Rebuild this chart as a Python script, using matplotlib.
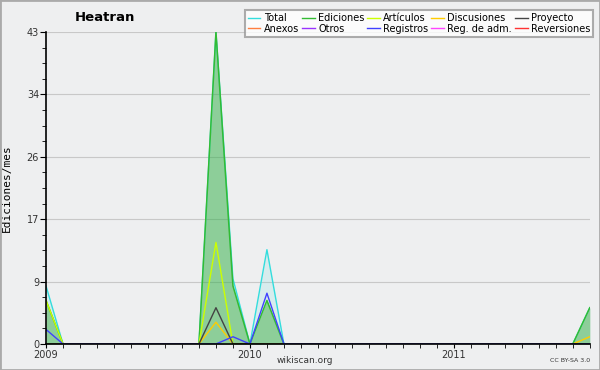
import matplotlib
matplotlib.use("Agg")
import matplotlib.pyplot as plt
from matplotlib.lines import Line2D

# meses desde enero 2009 (0) hasta septiembre 2011 (32)
meses = list(range(33))
anios = ["2009", "2010", "2011"]

def serie(pares):
    v = [0] * 33
    for i, val in pares.items():
        v[i] = val
    return v

total = serie({0: 8, 10: 43, 11: 9, 13: 13, 32: 5})
ediciones = serie({0: 6, 10: 43, 11: 8, 13: 6, 32: 5})
articulos = serie({0: 6, 10: 14})
discusiones = serie({10: 3, 32: 1})
proyecto = serie({10: 5})
anexos = serie({})
otros = serie({})
registros = serie({0: 2, 11: 1, 13: 7})
reg_adm = serie({})
reversiones = serie({})

nombres = ["Total", "Ediciones", "Artículos", "Discusiones", "Proyecto",
           "Anexos", "Otros", "Registros", "Reg. de adm.", "Reversiones"]
colores = ["#33dddd", "#33bb33", "#ccff00", "#ffcc00", "#444444",
           "#ff7f40", "#9933ff", "#4040ff", "#ff44ff", "#ff3333"]
datos = [total, ediciones, articulos, discusiones, proyecto,
         anexos, otros, registros, reg_adm, reversiones]

fondo = "#eeeff0"
fig = plt.figure(figsize=(6, 3.7), dpi=100, facecolor=fondo)
ax = fig.add_axes([0.0767, 0.0703, 0.9063, 0.8432])
ax.set_facecolor(fondo)

ymax = 43
ax.fill_between(meses, total, color="#33dddd", alpha=0.12, lw=0)
ax.fill_between(meses, ediciones, color="#33aa33", alpha=0.45, lw=0)
orden_dibujo = [0, 1, 2, 3, 4, 7]
for i in orden_dibujo:
    ax.plot(meses, datos[i], color=colores[i], lw=1.1 if i == 1 else 1, zorder=3 if i else 2)

ax.set_xlim(0, 32)
ax.set_ylim(0, ymax)
mayores = [ymax * k / 5 for k in range(6)]
ax.set_yticks(mayores)
ax.set_yticklabels([str(int(round(m))) for m in mayores])
ax.set_yticks([ymax * k / 20 for k in range(21)], minor=True)
ax.set_xticks(meses, minor=True)
ax.set_xticks([0, 12, 24])
ax.set_xticklabels(anios)
ax.tick_params(axis="both", which="both", labelsize=7, color="black",
               labelcolor="#333333", direction="out")
ax.tick_params(axis="y", which="major", length=4, pad=1)
ax.tick_params(axis="y", which="minor", length=3)
ax.tick_params(axis="x", which="both", length=3, pad=1)
ax.grid(axis="y", which="major", color="#c8c8c8", lw=0.8)
ax.set_axisbelow(True)
for s in ["top", "right"]:
    ax.spines[s].set_visible(False)
for s in ["left", "bottom"]:
    ax.spines[s].set_linewidth(1.2)
    ax.spines[s].set_zorder(5)

ax.set_ylabel("Ediciones/mes", family="DejaVu Sans Mono", fontsize=8, labelpad=11)

# leyenda en orden por filas (5 columnas)
handles = [Line2D([], [], color=c, lw=1) for c in colores]
orden = [0, 5, 1, 6, 2, 7, 3, 8, 4, 9]
leg = fig.legend([handles[i] for i in orden], [nombres[i] for i in orden],
                 ncol=5, loc="upper right", bbox_to_anchor=(0.997, 0.985),
                 fontsize=7, frameon=True, fancybox=False, handlelength=1.3,
                 handletextpad=0.35, columnspacing=0.3, labelspacing=0.05,
                 borderpad=0.3)
leg.get_frame().set_edgecolor("#999999")
leg.get_frame().set_linewidth(1.5)
leg.get_frame().set_facecolor("white")

fig.text(0.175, 0.954, "Heatran", fontsize=9.5, fontweight="bold", ha="center", va="center")
fig.text(0.508, 0.025, "wikiscan.org", fontsize=6.5, ha="center", va="center", color="#333333")
fig.text(0.983, 0.025, "CC BY-SA 3.0", fontsize=4.5, ha="right", va="center", color="#333333")

# marco gris de la figura
fig.patches.append(plt.Rectangle((0, 0), 1, 1, transform=fig.transFigure,
                                 fill=False, edgecolor="#aaaaaa", lw=2))

fig.savefig("out.png", dpi=100, facecolor=fondo)
